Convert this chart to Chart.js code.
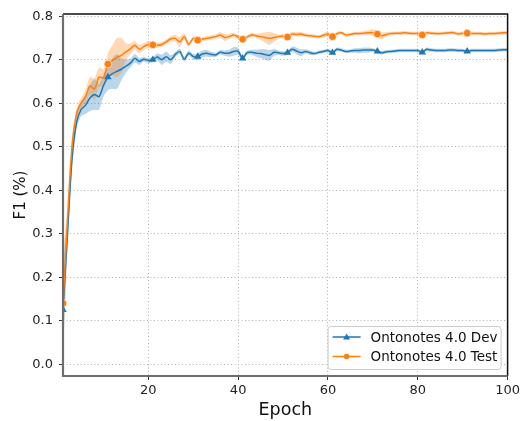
<!DOCTYPE html>
<html lang="en">
<head>
    <meta charset="UTF-8">
    <title>F1 per epoch</title>
    <script src="https://cdn.jsdelivr.net/npm/chart.js"></script>
    <style>
        html, body { margin: 0; padding: 0; background: #fff; }
        #wrap { width: 523px; height: 421px; }
    </style>
</head>
<body>
    <div id="wrap"><canvas id="myChart" width="523" height="421"></canvas></div>
</body>
</html>
<script>
    // epochs 1..100
    const epochs = Array.from({ length: 100 }, (_, i) => i + 1);

    const devF1 = [
        0.125, 0.300, 0.470, 0.555, 0.585, 0.595, 0.612, 0.620, 0.615, 0.640,
        0.660, 0.668, 0.673, 0.678, 0.685, 0.692, 0.703, 0.696, 0.701, 0.698,
        0.700, 0.706, 0.700, 0.707, 0.700, 0.712, 0.719, 0.701, 0.715, 0.707,
        0.707, 0.713, 0.715, 0.712, 0.711, 0.717, 0.715, 0.715, 0.719, 0.719,
        0.703, 0.716, 0.717, 0.715, 0.714, 0.712, 0.710, 0.717, 0.716, 0.714,
        0.716, 0.724, 0.720, 0.716, 0.719, 0.716, 0.714, 0.717, 0.719, 0.721,
        0.716, 0.724, 0.722, 0.719, 0.720, 0.721, 0.721, 0.722, 0.722, 0.722,
        0.719, 0.716, 0.718, 0.719, 0.720, 0.721, 0.721, 0.721, 0.721, 0.721,
        0.717, 0.724, 0.722, 0.721, 0.721, 0.721, 0.722, 0.722, 0.721, 0.721,
        0.719, 0.721, 0.721, 0.721, 0.721, 0.721, 0.721, 0.722, 0.723, 0.723
    ];
    const devStd = [
        0.105, 0.040, 0.020, 0.015, 0.015, 0.020, 0.030, 0.035, 0.030, 0.025,
        0.030, 0.035, 0.040, 0.025, 0.015, 0.010, 0.010, 0.008, 0.006, 0.006,
        0.006, 0.008, 0.012, 0.012, 0.010, 0.006, 0.006, 0.006, 0.006, 0.006,
        0.008, 0.008, 0.008, 0.006, 0.005, 0.005, 0.006, 0.008, 0.010, 0.008,
        0.005, 0.005, 0.006, 0.008, 0.010, 0.012, 0.012, 0.008, 0.005, 0.005,
        0.005, 0.006, 0.008, 0.008, 0.005, 0.005, 0.004, 0.004, 0.004, 0.004,
        0.004, 0.004, 0.004, 0.004, 0.004, 0.005, 0.006, 0.006, 0.006, 0.004,
        0.004, 0.004, 0.004, 0.004, 0.004, 0.004, 0.004, 0.004, 0.004, 0.004,
        0.004, 0.004, 0.004, 0.004, 0.004, 0.004, 0.004, 0.004, 0.004, 0.004,
        0.004, 0.004, 0.004, 0.004, 0.004, 0.004, 0.004, 0.004, 0.004, 0.004
    ];

    const testF1 = [
        0.140, 0.330, 0.500, 0.575, 0.600, 0.615, 0.640, 0.632, 0.660, 0.658,
        0.690, 0.698, 0.705, 0.710, 0.718, 0.725, 0.733, 0.724, 0.730, 0.735,
        0.734, 0.733, 0.735, 0.741, 0.748, 0.749, 0.741, 0.753, 0.735, 0.749,
        0.745, 0.747, 0.749, 0.751, 0.753, 0.757, 0.751, 0.753, 0.757, 0.752,
        0.747, 0.752, 0.757, 0.755, 0.753, 0.751, 0.749, 0.751, 0.753, 0.754,
        0.752, 0.759, 0.758, 0.759, 0.756, 0.755, 0.754, 0.753, 0.756, 0.759,
        0.753, 0.760, 0.762, 0.757, 0.758, 0.760, 0.760, 0.761, 0.762, 0.762,
        0.759, 0.755, 0.758, 0.760, 0.761, 0.761, 0.762, 0.761, 0.760, 0.760,
        0.757, 0.762, 0.761, 0.760, 0.760, 0.761, 0.762, 0.762, 0.759, 0.761,
        0.761, 0.760, 0.760, 0.760, 0.759, 0.760, 0.760, 0.761, 0.762, 0.762
    ];
    const testStd = [
        0.110, 0.040, 0.020, 0.012, 0.012, 0.015, 0.020, 0.025, 0.022, 0.020,
        0.025, 0.035, 0.045, 0.040, 0.020, 0.012, 0.010, 0.010, 0.008, 0.008,
        0.006, 0.006, 0.006, 0.006, 0.006, 0.008, 0.012, 0.008, 0.005, 0.005,
        0.005, 0.005, 0.005, 0.005, 0.005, 0.006, 0.008, 0.006, 0.005, 0.005,
        0.005, 0.005, 0.005, 0.005, 0.008, 0.012, 0.015, 0.010, 0.005, 0.005,
        0.005, 0.005, 0.005, 0.005, 0.004, 0.004, 0.004, 0.004, 0.005, 0.005,
        0.004, 0.004, 0.004, 0.004, 0.004, 0.004, 0.004, 0.005, 0.006, 0.008,
        0.008, 0.008, 0.005, 0.004, 0.004, 0.004, 0.004, 0.004, 0.004, 0.004,
        0.004, 0.004, 0.004, 0.004, 0.004, 0.004, 0.004, 0.004, 0.004, 0.004,
        0.004, 0.004, 0.004, 0.004, 0.004, 0.004, 0.004, 0.004, 0.004, 0.004
    ];

    const xTicks = [20, 40, 60, 80, 100];
    const yTicks = [0.0, 0.1, 0.2, 0.3, 0.4, 0.5, 0.6, 0.7, 0.8];
    const seriesNames = ['Ontonotes 4.0 Dev', 'Ontonotes 4.0 Test'];

    const BLUE = '#1f77b4';
    const ORANGE = '#ff7f0e';
    const FONT = "'DejaVu Sans', sans-serif";

    // markers every 10th epoch, starting at the first
    const markerEvery = (r) => (c) => (c.dataIndex % 10 === 0 ? r : 0);

    function band(mean, std, sign) {
        return mean.map((v, i) => v + sign * std[i]);
    }

    function bandSet(data, fill, color) {
        return {
            data: data,
            borderWidth: 0,
            pointRadius: 0,
            backgroundColor: color,
            fill: fill,
            tension: 0.3,
            order: 2
        };
    }

    // spines + custom legend (matplotlib look)
    const framePlugin = {
        id: 'frame',
        afterDraw(chart) {
            const { ctx, chartArea: a } = chart;
            ctx.save();
            // top & right spines
            ctx.strokeStyle = '#111';
            ctx.lineWidth = 1.5;
            ctx.beginPath();
            ctx.moveTo(a.left, a.top);
            ctx.lineTo(a.right, a.top);
            ctx.lineTo(a.right, a.bottom);
            ctx.stroke();
            // left & bottom spines, grey and heavier
            ctx.strokeStyle = '#6e6e6e';
            ctx.lineWidth = 2.2;
            ctx.beginPath();
            ctx.moveTo(a.left, a.top);
            ctx.lineTo(a.left, a.bottom);
            ctx.lineTo(a.right, a.bottom);
            ctx.stroke();

            // legend
            const w = 173, h = 43;
            const bx = a.right - 7 - w, by = a.bottom - 7 - h;
            ctx.fillStyle = 'rgba(255,255,255,0.85)';
            ctx.strokeStyle = '#cccccc';
            ctx.lineWidth = 1;
            ctx.beginPath();
            ctx.roundRect(bx + 0.5, by + 0.5, w, h, 3);
            ctx.fill();
            ctx.stroke();

            const colors = [BLUE, ORANGE];
            ctx.font = '13.5px ' + FONT;
            ctx.textBaseline = 'middle';
            seriesNames.forEach((name, i) => {
                const y = by + 11 + i * 19.5;
                const x0 = bx + 5;
                ctx.strokeStyle = colors[i];
                ctx.lineWidth = 1.5;
                ctx.beginPath();
                ctx.moveTo(x0, y);
                ctx.lineTo(x0 + 28, y);
                ctx.stroke();
                ctx.fillStyle = colors[i];
                ctx.beginPath();
                if (i === 0) {
                    ctx.moveTo(x0 + 14, y - 3.5);
                    ctx.lineTo(x0 + 17.5, y + 2.5);
                    ctx.lineTo(x0 + 10.5, y + 2.5);
                    ctx.closePath();
                } else {
                    ctx.arc(x0 + 14, y, 2.8, 0, Math.PI * 2);
                }
                ctx.fill();
                ctx.fillStyle = '#111';
                ctx.fillText(name, x0 + 38, y + 1);
            });
            ctx.restore();
        }
    };

    const ctx = document.getElementById('myChart').getContext('2d');

    new Chart(ctx, {
        type: 'line',
        data: {
            labels: epochs,
            datasets: [
                {
                    label: seriesNames[1],
                    data: testF1,
                    borderColor: ORANGE,
                    backgroundColor: ORANGE,
                    borderWidth: 1.5,
                    pointStyle: 'circle',
                    pointRadius: markerEvery(3.8),
                    pointBorderColor: '#fff',
                    pointBorderWidth: 0.6,
                    tension: 0.3,
                    fill: false,
                    order: 0
                },
                {
                    label: seriesNames[0],
                    data: devF1,
                    borderColor: BLUE,
                    backgroundColor: BLUE,
                    borderWidth: 1.5,
                    pointStyle: 'triangle',
                    pointRadius: markerEvery(4.3),
                    pointBorderWidth: 0,
                    tension: 0.3,
                    fill: false,
                    order: 1
                },
                bandSet(band(testF1, testStd, -1), false, 'rgba(0,0,0,0)'),
                bandSet(band(testF1, testStd, 1), '-1', 'rgba(255,127,14,0.3)'),
                bandSet(band(devF1, devStd, -1), false, 'rgba(0,0,0,0)'),
                bandSet(band(devF1, devStd, 1), '-1', 'rgba(31,119,180,0.3)')
            ]
        },
        options: {
            responsive: false,
            animation: false,
            layout: { padding: { left: 0, top: 14, right: 14, bottom: 0 } },
            plugins: {
                legend: { display: false },
                tooltip: { enabled: false }
            },
            scales: {
                x: {
                    type: 'linear',
                    min: 1,
                    max: 100,
                    afterBuildTicks: (s) => { s.ticks = xTicks.map(v => ({ value: v })); },
                    afterFit: (s) => { s.height = 45; },
                    grid: {
                        color: '#b0b0b0',
                        tickColor: '#333',
                        tickLength: 4,
                        tickBorderDash: []
                    },
                    border: { display: false, dash: [1, 2.5] },
                    ticks: {
                        color: '#222',
                        font: { family: FONT, size: 13 },
                        padding: 3,
                        maxRotation: 0
                    },
                    title: {
                        display: true,
                        text: 'Epoch',
                        color: '#111',
                        font: { family: FONT, size: 17.5 },
                        padding: { top: 2, bottom: 0 }
                    }
                },
                y: {
                    min: -0.027,
                    max: 0.805,
                    afterBuildTicks: (s) => { s.ticks = yTicks.map(v => ({ value: v })); },
                    afterFit: (s) => { s.width = 63; },
                    grid: {
                        color: '#b0b0b0',
                        tickColor: '#333',
                        tickLength: 4,
                        tickBorderDash: []
                    },
                    border: { display: false, dash: [1, 2.5] },
                    ticks: {
                        color: '#222',
                        font: { family: FONT, size: 13 },
                        padding: 6,
                        callback: (v) => Number(v).toFixed(1)
                    },
                    title: {
                        display: true,
                        text: 'F1 (%)',
                        color: '#111',
                        font: { family: FONT, size: 15 },
                        padding: { top: 12, bottom: 0 }
                    }
                }
            }
        },
        plugins: [framePlugin]
    });
</script>
